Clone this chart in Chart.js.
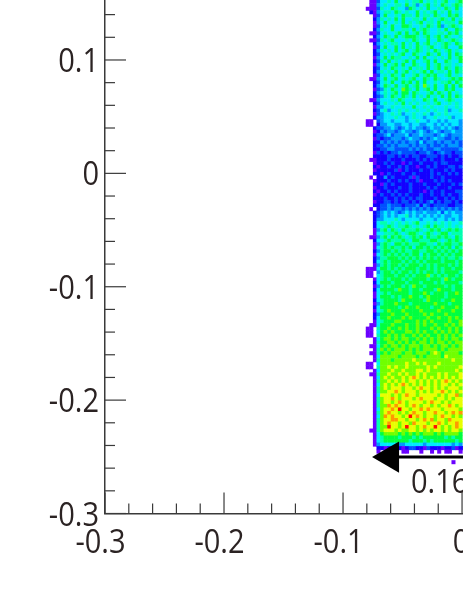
<!DOCTYPE html>
<html><head><meta charset="utf-8">
<style>html,body{margin:0;padding:0;background:#fff;overflow:hidden}#w{width:463px;height:599px;position:relative}</style>
<script src="https://cdn.jsdelivr.net/npm/chart.js@4"></script></head>
<body><div id="w"><canvas id="c" width="463" height="599"></canvas></div>
<script>
const xTickStep = 0.02;
const yTickStep = 0.02;
const xRange = [-0.3, 0.0008];
const yRange = [-0.3, 0.1529];
const binXStart = -0.0807;
const binYStart = 0.1529;
const binW = 0.003;
const binH = 0.0031;
const levelColors = {'0':'#6a00ff','1':'#1400ff','2':'#0050ff','3':'#0098ff','4':'#00eaff','5':'#00ffb0','6':'#00ff40','7':'#70ff00','8':'#e8ff00','9':'#ff9800','r':'#ff1000','w':'#ffffff'};
const arrowX = [-0.0605, 0.0008];
const arrowY = [-0.2502, -0.2502];
const noteText = ['0.16'];
const noteAt = [-0.0429, -0.2815];
const histRows = [
".00244546445455645454564456",
".00345445546453456454654565",
"000254465443654546445465464",
".10345546545446454564546454",
"..0246445465546455465446564",
"..1354546464455464545654645",
"..0346445464545645546455546",
"..0245464466544546546345654",
"..1354464455464565445464465",
".00245445646456465445546564",
"..1346546456665456456465445",
".00254564445465446446545654",
"..1345455464546456454565465",
"..0246446464546545644564446",
"..1354546456456545465456454",
"..1245454564465446546446465",
"..0346465544546464454546456",
"..1254645456464456464465446",
"..0346456464465446456455454",
"..1245465454645546456465465",
"..1354546456454564645546465",
"..0245465464456456564456454",
".00346456454564465465445656",
"..1245464465646464454556465",
"..1346546456456475464464646",
"..0235465476546456464465644",
"..1345456466465445646546454",
"..1235465465464546454646465",
".00344454654454465464456544",
"..1245445464545445456445454",
"..0334454454464454544454454",
"..1245344545445445454453445",
"..0234454534454454345454444",
"..1334445443454434454445344",
"00.234434443445443443434443",
"00.133443344344334434343443",
"..1223343234343323433434323",
"..0132332343323432343233433",
"..1223423334233433323432333",
"..0212233323433232343322323",
"..1132323232332423323233232",
"..1223232333232332322323332",
"..1122332222323232233222223",
"..0212122322221223212322122",
"..1111221212122112221212112",
".00111211121112121211211121",
"..0112121101211211121221111",
"..1011211212110112121112212",
"..0111112012111211211121211",
"..1101211121121111212112121",
".0w113121111202111211211111",
"..0111211212112011121212111",
"..1102121111211121112111212",
"..0112111211211112121112111",
"..1011212111211101211211122",
"..0121121212111211211212112",
"..1112112121212211121121212",
"..0112212122121212312122121",
"..1122322212223132122221122",
".0w122323323232323232323232",
"..1234343234343343334243433",
"..1234343445343434343433443",
"..1334445434444344434434343",
"..1455454545456445454545445",
"..1445654556545456465545454",
"..0356465465556545656456565",
"..0445556545665456545664555",
".00356465654565646556565465",
"..1445655565466555665456565",
"..0356546656555665546566556",
"..0456565565646656565656465",
"..1356656565566556656565656",
"..0456565656566465665656566",
"..1355666565656565656565565",
"..1456566656565656666566656",
"..0356566565666565656665656",
"000466565656665665656566566",
"00.356656566565656656566665",
"00.456665665656667565656656",
"..0456566656566665666576566",
"..1466656665666566656566665",
"..0356566656576656666656566",
"..1466665766566566657666566",
"..0456566666566676566656676",
"..0466656566766567666656666",
"..1456666576666657666566766",
"..0356667666566666676665666",
"..1466666567667666566766676",
"..0456766676666766667666766",
"..1366676667666676766676666",
"..1466766676766667667667676",
"..0456667766667676766667667",
".00466676667667676676676767",
"00.566766767667666767667676",
"00.467676667767676676767676",
"00.566767676676767667676767",
"..0467767677667676767676776",
"..0566776767676776767767677",
".00467677676777677676776767",
"..0576767776767677776767777",
".00567677767767776787677776",
"..0477777677776767777687777",
"..0577767777787777777777877",
"00.477777778778787778777777",
"00.577878778777778787777778",
"..0477787787778878777777787",
".00577877878778787778787778",
"..0478787787898787878787878",
"..0577878787887878787898787",
"..0478787898787878787887878",
"..0578788878878988787878887",
"..0577889878887878788987878",
"..0488878789887888887878897",
"..0578898788878988878878788",
"..0578878987888878988787888",
"..0577989887898788787889878",
"..0478898r88788989888788887",
"..0578988787898878898878989",
"..0479898878r89878878988787",
"..0578899887887898978879888",
"..0578988788798887889878898",
"..0577r8878r8878988r8787898",
".00578887877887878788787887",
"..0467777676767677767677776",
"..0456666566656566666656566",
"..0456666666566656566666656",
"..0344444334444434444444343",
"...1101011012211021110112011",
"...0.00...00...0..0.0.00..0",
"...........................",
"...........................",
"........................0.."
];
const colors = [];
const cells = [];
histRows.forEach((row, r) => {
  [...row].forEach((ch, k) => {
    if (ch === '.') return;
    cells.push({x: binXStart + binW * (k + 0.5), y: binYStart - binH * (r + 0.5)});
    colors.push(levelColors[ch]);
  });
});
const textColor = '#2b2323';
const fontSize = 33;
const fontFamily = '"Open Sans",sans-serif';
const squeeze = 0.88;
const round = v => Math.round(v * 1000) / 1000;
const majorLabel = v => {
  const n = round(v);
  if (Math.abs(Math.round(n * 10) - n * 10) > 1e-6) return '';
  return n === 0 ? '0' : String(n);
};
function squeezedText(ctx, text, px, py, align) {
  ctx.save();
  ctx.translate(px, py);
  ctx.scale(squeeze, 1);
  ctx.textAlign = align;
  ctx.textBaseline = 'alphabetic';
  ctx.fillText(text, 0, 0);
  ctx.restore();
}
const axisMarks = {
  id: 'axisMarks',
  afterDraw(chart) {
    const {ctx, scales: {x, y}} = chart;
    ctx.save();
    ctx.strokeStyle = '#3a3a3a';
    ctx.lineWidth = 1.2;
    ctx.fillStyle = textColor;
    ctx.font = fontSize + 'px ' + fontFamily;
    x.ticks.forEach(t => {
      const p = x.getPixelForValue(t.value);
      const label = majorLabel(t.value);
      ctx.beginPath(); ctx.moveTo(p, y.bottom); ctx.lineTo(p, y.bottom - (label ? 21 : 10)); ctx.stroke();
      if (label) squeezedText(ctx, label, p - (t.value < -1e-6 ? 4.5 : 1), y.bottom + 39.5, 'center');
    });
    y.ticks.forEach(t => {
      const p = y.getPixelForValue(t.value);
      const label = majorLabel(t.value);
      ctx.beginPath(); ctx.moveTo(x.left, p); ctx.lineTo(x.left + (label ? 21 : 10), p); ctx.stroke();
      if (label) squeezedText(ctx, label, x.left - 6, p + 12, 'right');
    });
    squeezedText(ctx, noteText[0], x.getPixelForValue(noteAt[0]), y.getPixelForValue(noteAt[1]), 'left');
    ctx.restore();
  }
};
new Chart(document.getElementById('c'), {
  type: 'scatter',
  data: {datasets: [
    {
      data: arrowX.map((v, i) => ({x: v, y: arrowY[i]})),
      type: 'line', showLine: true, borderColor: '#000', borderWidth: 3,
      backgroundColor: '#000', pointBackgroundColor: '#000',
      pointStyle: 'triangle', pointRadius: [18, 0], pointRotation: -90, pointBorderWidth: 0,
      order: 0, clip: false
    },
    {
      data: cells, backgroundColor: colors, borderWidth: 0,
      pointStyle: 'rect', pointRadius: 2.85, pointHoverRadius: 2.85, order: 1, clip: false
    }
  ]},
  options: {
    responsive: false, animation: false, events: [],
    layout: {padding: 0, autoPadding: false},
    plugins: {legend: {display: false}, tooltip: {enabled: false}},
    scales: {
      x: {
        type: 'linear', min: xRange[0], max: xRange[1],
        grid: {display: false, drawTicks: false},
        border: {display: true, color: '#3a3a3a', width: 1.5},
        ticks: {display: false, stepSize: xTickStep, autoSkip: false, includeBounds: false, callback: majorLabel},
        afterFit(s) { s.height = 85.5; }
      },
      y: {
        type: 'linear', min: yRange[0], max: yRange[1],
        grid: {display: false, drawTicks: false},
        border: {display: true, color: '#3a3a3a', width: 1.5},
        ticks: {display: false, stepSize: yTickStep, autoSkip: false, includeBounds: false, callback: majorLabel},
        afterFit(s) { s.width = 105; }
      }
    }
  },
  plugins: [axisMarks]
});
</script></body></html>
